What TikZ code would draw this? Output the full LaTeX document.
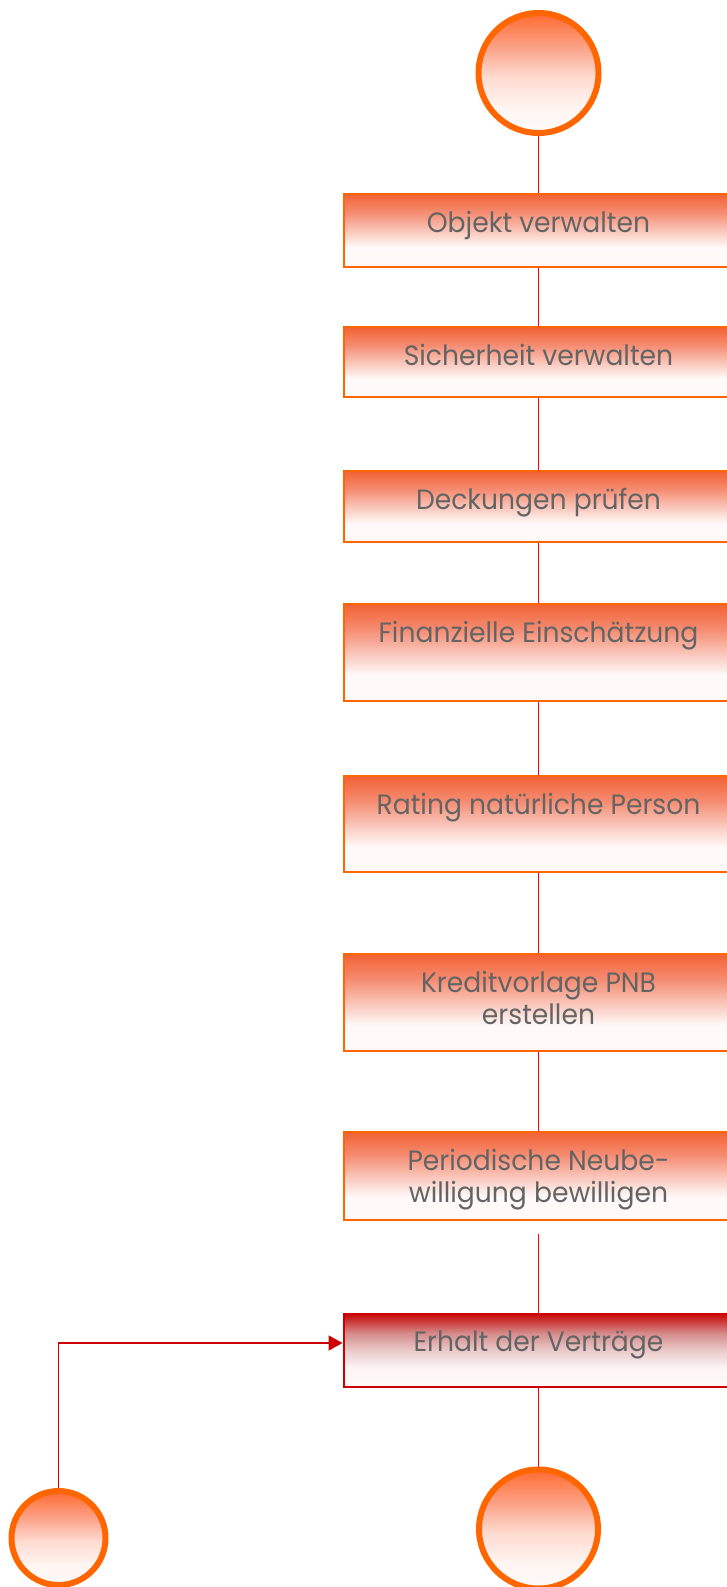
\documentclass[tikz,border=0pt]{standalone}
\usepackage{fontspec}
\setmainfont[FakeStretch=0.95]{Poppins}
\usetikzlibrary{arrows.meta}
\definecolor{rand}{HTML}{FF6600}
\definecolor{linie}{HTML}{FF0000}
\definecolor{dunkelrot}{HTML}{CC0000}
\definecolor{schrift}{HTML}{646464}
\definecolor{kastenoben}{HTML}{F26234}
\definecolor{kastenmitte}{HTML}{F58C72}
\definecolor{kastenhell}{HTML}{FAC4B8}
\definecolor{kreisoben}{HTML}{FF6A30}
\definecolor{kreismitte}{HTML}{FCA58C}
\definecolor{kreishell}{HTML}{FEDCD2}
\definecolor{rotoben}{HTML}{C80808}
\definecolor{rotmitte}{HTML}{D58A8A}
\definecolor{rothell}{HTML}{EBCACA}
\pgfdeclareverticalshading{kastenverlauf}{100bp}{color(0bp)=(white); color(25bp)=(white!96!kastenoben); color(38bp)=(white!97!kastenoben); color(50bp)=(kastenhell); color(62bp)=(kastenmitte); color(75bp)=(kastenoben); color(100bp)=(kastenoben)}
\pgfdeclareverticalshading{rotverlauf}{100bp}{color(0bp)=(white); color(25bp)=(white!97!rotoben); color(38bp)=(white!96!rotoben); color(50bp)=(rothell); color(62bp)=(rotmitte); color(75bp)=(rotoben); color(100bp)=(rotoben)}
\pgfdeclareverticalshading{kreisverlauf}{100bp}{color(0bp)=(white); color(25bp)=(white!97!kreisoben); color(35bp)=(white!94!kreisoben); color(48bp)=(kreishell); color(60bp)=(kreismitte); color(75bp)=(kreisoben); color(100bp)=(kreisoben)}

\begin{document}
\begin{tikzpicture}[x=1pt, y=-1pt,
    kreis/.style={circle, draw=rand, line width=6pt, shade, shading=kreisverlauf, inner sep=0pt},
    kasten/.style={rectangle, draw=rand, line width=2pt, shade, shading=kastenverlauf, minimum width=390pt, inner sep=0pt},
    rotkasten/.style={kasten, draw=dunkelrot, shading=rotverlauf},
    titel/.style={anchor=north, inner sep=0pt, yshift=-18pt, text=schrift, align=center, font=\fontsize{28}{32}\selectfont},
    verbindung/.style={draw=linie, line width=1.8pt},
    rueckfluss/.style={draw=dunkelrot, line width=1.8pt, -{Triangle[length=14pt,width=15pt]}}]
            \useasboundingbox (0,0) rectangle (726,1587);
            \node[kreis, minimum size=120pt](1) at (538.5, 73) {};
            \node[kasten, minimum height=73pt, label={[titel]north:Objekt verwalten}](2) at (538.5, 230) {};
            \node[kasten, minimum height=70pt, label={[titel]north:Sicherheit verwalten}](3) at (538.5, 362) {};
            \node[kasten, minimum height=71pt, label={[titel]north:Deckungen prüfen}](4) at (538.5, 506.5) {};
            \path[verbindung] (1) edge (2) (2) edge (3) (3) edge (4);
            \node[kasten, minimum height=97pt, label={[titel]north:Finanzielle Einschätzung}](5) at (538.5, 652.5) {};
            \node[kasten, minimum height=96pt, label={[titel]north:Rating natürliche Person}](6) at (538.5, 824) {};
            \node[kasten, minimum height=97pt, label={[titel]north:Kreditvorlage PNB\\erstellen}](7) at (538.5, 1002.5) {};
            \path[verbindung] (4) edge (5) (5) edge (6) (6) edge (7);
            \node[kasten, minimum height=88pt, label={[titel]north:Periodische Neube-\\willigung bewilligen}](8) at (538.5, 1176) {};
            \node[rotkasten, minimum height=73pt, label={[titel]north:Erhalt der Verträge}](9) at (538.5, 1350.5) {};
            \path[verbindung] (7) edge (8) (8) edge[shorten <=13pt] (9);
            \node[kreis, minimum size=119pt](10) at (538.5, 1529) {};
            \node[kreis, minimum size=94pt](11) at (58.5, 1538) {};
            \path[verbindung] (9) edge (10);
            \draw[rueckfluss] (11) |- ([yshift=7.5pt]9.west);
        \end{tikzpicture}
\end{document}
